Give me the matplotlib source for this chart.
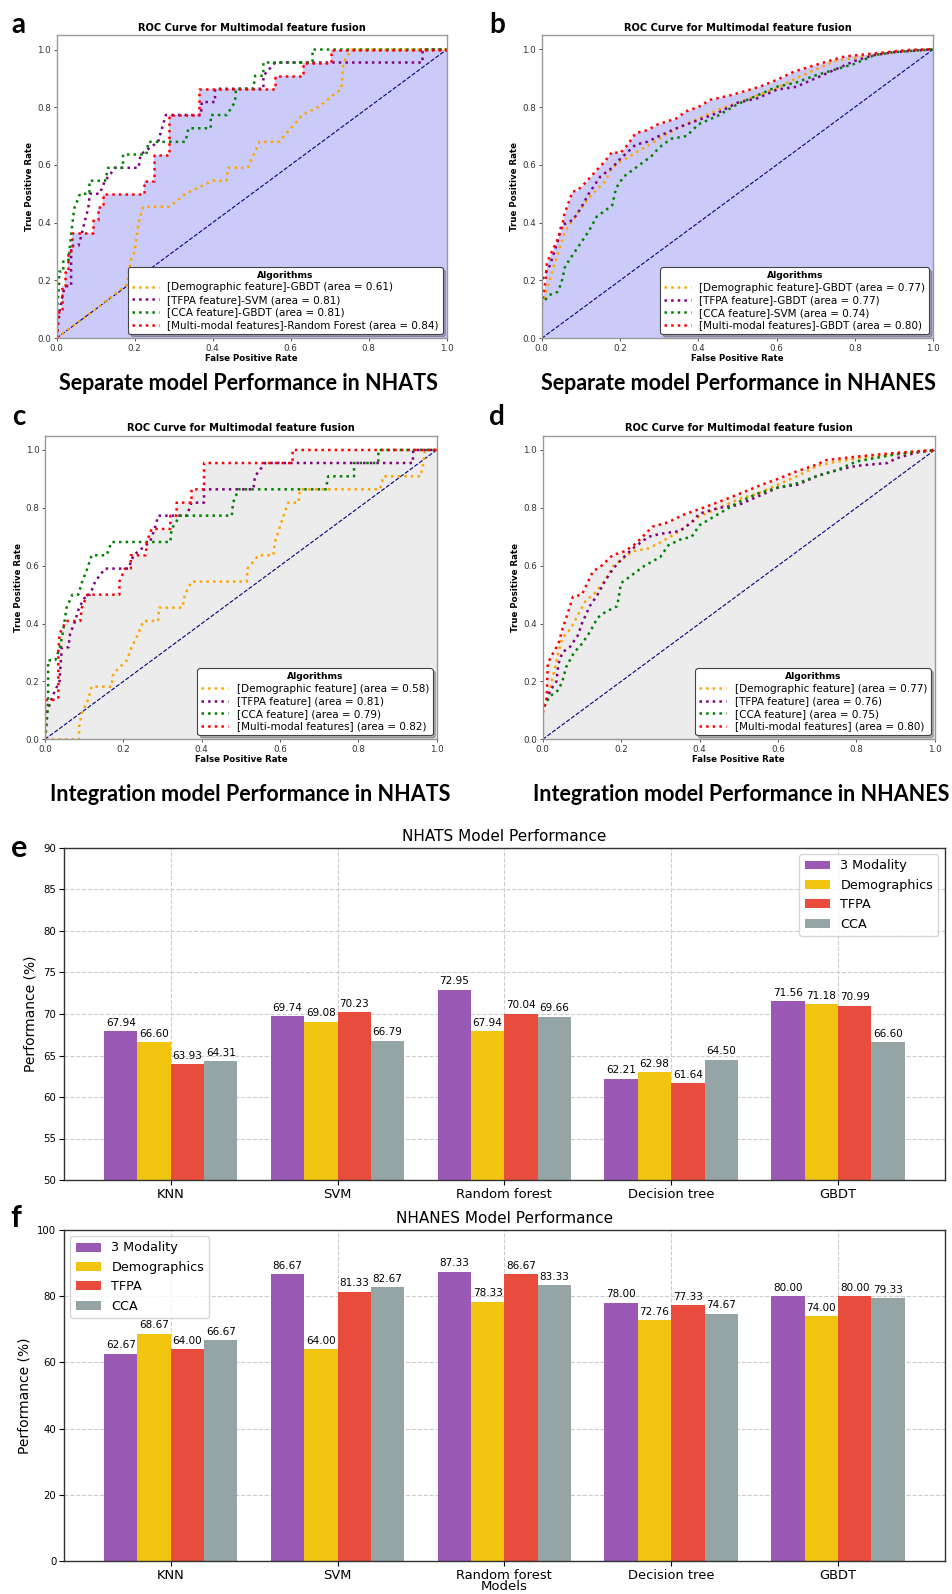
import numpy as np
import matplotlib
matplotlib.use("Agg")
import matplotlib.pyplot as plt

# ---------------- data ----------------
# panel a: separate models, NHATS
a_demo_fpr = [0, 0.1, 0.18, 0.19, 0.2, 0.21, 0.222, 0.29, 0.33, 0.4, 0.435, 0.44, 0.49, 0.52, 0.57, 0.63, 0.67, 0.73, 0.735, 0.756, 1.0]
a_demo_tpr = [0, 0.1, 0.185, 0.27, 0.3, 0.4, 0.455, 0.455, 0.5, 0.545, 0.545, 0.59, 0.59, 0.68, 0.68, 0.773, 0.8, 0.864, 0.955, 1.0, 1.0]
a_tfpa_fpr = [0, 0.008, 0.017, 0.023, 0.037, 0.037, 0.056, 0.064, 0.073, 0.081, 0.085, 0.11, 0.124, 0.15, 0.21, 0.215, 0.26, 0.27, 0.28, 0.37, 0.372, 0.406, 0.406, 0.53, 0.53, 0.56, 0.938, 0.938, 1.0]
a_tfpa_tpr = [0, 0.1, 0.16, 0.18, 0.18, 0.32, 0.32, 0.36, 0.41, 0.45, 0.5, 0.5, 0.545, 0.59, 0.59, 0.636, 0.68, 0.727, 0.773, 0.773, 0.818, 0.818, 0.864, 0.864, 0.909, 0.955, 0.955, 1.0, 1.0]
a_cca_fpr = [0, 0, 0.006, 0.006, 0.017, 0.017, 0.03, 0.038, 0.045, 0.06, 0.084, 0.084, 0.124, 0.132, 0.17, 0.17, 0.23, 0.235, 0.33, 0.338, 0.395, 0.395, 0.436, 0.457, 0.46, 0.504, 0.509, 0.53, 0.53, 0.656, 0.656, 1.0]
a_cca_tpr = [0, 0.09, 0.18, 0.23, 0.23, 0.27, 0.27, 0.37, 0.45, 0.5, 0.5, 0.545, 0.545, 0.59, 0.59, 0.636, 0.636, 0.68, 0.68, 0.727, 0.727, 0.773, 0.773, 0.818, 0.864, 0.864, 0.909, 0.909, 0.955, 0.955, 1.0, 1.0]
a_multi_fpr = [0, 0, 0.013, 0.013, 0.021, 0.021, 0.03, 0.03, 0.038, 0.038, 0.094, 0.094, 0.107, 0.107, 0.118, 0.118, 0.224, 0.224, 0.25, 0.25, 0.289, 0.289, 0.366, 0.366, 0.561, 0.561, 0.632, 0.632, 0.703, 0.703, 1.0]
a_multi_tpr = [0, 0.09, 0.09, 0.18, 0.18, 0.23, 0.23, 0.3, 0.3, 0.364, 0.364, 0.41, 0.41, 0.455, 0.455, 0.5, 0.5, 0.545, 0.545, 0.636, 0.636, 0.773, 0.773, 0.864, 0.864, 0.909, 0.909, 0.955, 0.955, 1.0, 1.0]
a_labels = ["[Demographic feature]-GBDT (area = 0.61)", "[TFPA feature]-SVM (area = 0.81)",
            "[CCA feature]-GBDT (area = 0.81)", "[Multi-modal features]-Random Forest (area = 0.84)"]

# panel b: separate models, NHANES
b_demo_fpr = [0, 0, 0.02, 0.04, 0.06, 0.08, 0.1, 0.13, 0.16, 0.18, 0.2, 0.25, 0.3, 0.35, 0.4, 0.45, 0.5, 0.55, 0.6, 0.65, 0.7, 0.75, 0.8, 0.9, 1.0]
b_demo_tpr = [0, 0.11, 0.2, 0.29, 0.37, 0.41, 0.45, 0.5, 0.54, 0.59, 0.61, 0.65, 0.69, 0.73, 0.76, 0.79, 0.815, 0.84, 0.865, 0.9, 0.93, 0.96, 0.97, 0.99, 1.0]
b_tfpa_fpr = [0, 0, 0.02, 0.04, 0.05, 0.08, 0.1, 0.12, 0.15, 0.18, 0.2, 0.24, 0.27, 0.3, 0.35, 0.4, 0.45, 0.5, 0.55, 0.6, 0.65, 0.7, 0.75, 0.8, 0.85, 0.9, 1.0]
b_tfpa_tpr = [0, 0.2, 0.25, 0.33, 0.39, 0.41, 0.45, 0.5, 0.56, 0.59, 0.62, 0.67, 0.68, 0.7, 0.73, 0.755, 0.78, 0.815, 0.83, 0.86, 0.87, 0.9, 0.93, 0.96, 0.98, 0.99, 1.0]
b_cca_fpr = [0, 0, 0.02, 0.04, 0.05, 0.06, 0.08, 0.1, 0.12, 0.14, 0.16, 0.18, 0.19, 0.21, 0.25, 0.28, 0.3, 0.33, 0.37, 0.4, 0.45, 0.5, 0.55, 0.6, 0.65, 0.7, 0.75, 0.8, 0.85, 0.9, 1.0]
b_cca_tpr = [0, 0.12, 0.15, 0.16, 0.19, 0.25, 0.29, 0.33, 0.37, 0.42, 0.44, 0.46, 0.52, 0.56, 0.6, 0.63, 0.66, 0.69, 0.7, 0.74, 0.77, 0.81, 0.84, 0.87, 0.885, 0.91, 0.93, 0.95, 0.98, 0.99, 1.0]
b_multi_fpr = [0, 0, 0.01, 0.013, 0.026, 0.04, 0.051, 0.058, 0.079, 0.09, 0.113, 0.139, 0.16, 0.18, 0.2, 0.22, 0.24, 0.27, 0.296, 0.343, 0.368, 0.4, 0.43, 0.48, 0.556, 0.6, 0.645, 0.7, 0.773, 0.853, 0.94, 1.0]
b_multi_tpr = [0, 0.12, 0.2, 0.26, 0.3, 0.34, 0.38, 0.43, 0.508, 0.51, 0.54, 0.58, 0.61, 0.645, 0.64, 0.67, 0.71, 0.72, 0.74, 0.76, 0.785, 0.8, 0.825, 0.84, 0.87, 0.894, 0.923, 0.946, 0.975, 0.986, 0.998, 1.0]
b_labels = ["[Demographic feature]-GBDT (area = 0.77)", "[TFPA feature]-GBDT (area = 0.77)",
            "[CCA feature]-SVM (area = 0.74)", "[Multi-modal features]-GBDT (area = 0.80)"]

# panel c: integration models, NHATS
c_demo_fpr = [0, 0.087, 0.087, 0.094, 0.11, 0.119, 0.17, 0.174, 0.209, 0.221, 0.238, 0.251, 0.289, 0.291, 0.351, 0.357, 0.374, 0.515, 0.517, 0.545, 0.583, 0.587, 0.598, 0.609, 0.621, 0.647, 0.651, 0.855, 0.864, 0.959, 0.966, 0.97, 1.0]
c_demo_tpr = [0, 0, 0.045, 0.09, 0.136, 0.182, 0.182, 0.227, 0.273, 0.318, 0.364, 0.409, 0.409, 0.455, 0.455, 0.5, 0.545, 0.545, 0.59, 0.636, 0.636, 0.682, 0.727, 0.773, 0.818, 0.818, 0.864, 0.864, 0.909, 0.909, 0.955, 1.0, 1.0]
c_tfpa_fpr = [0, 0.004, 0.017, 0.026, 0.037, 0.043, 0.06, 0.064, 0.077, 0.087, 0.106, 0.115, 0.128, 0.153, 0.213, 0.226, 0.268, 0.28, 0.289, 0.362, 0.374, 0.406, 0.406, 0.532, 0.536, 0.562, 0.939, 0.94, 1.0]
c_tfpa_tpr = [0, 0.09, 0.14, 0.17, 0.2, 0.318, 0.318, 0.364, 0.409, 0.455, 0.5, 0.5, 0.545, 0.59, 0.59, 0.636, 0.682, 0.727, 0.773, 0.773, 0.818, 0.818, 0.864, 0.864, 0.909, 0.955, 0.955, 1.0, 1.0]
c_cca_fpr = [0, 0.004, 0.008, 0.008, 0.026, 0.038, 0.045, 0.055, 0.07, 0.085, 0.095, 0.108, 0.119, 0.157, 0.17, 0.32, 0.323, 0.345, 0.477, 0.48, 0.494, 0.717, 0.723, 0.789, 0.789, 0.851, 0.851, 1.0]
c_cca_tpr = [0, 0.05, 0.13, 0.273, 0.273, 0.318, 0.364, 0.455, 0.5, 0.5, 0.545, 0.59, 0.636, 0.636, 0.682, 0.682, 0.727, 0.773, 0.773, 0.818, 0.864, 0.864, 0.909, 0.909, 0.955, 0.955, 1.0, 1.0]
c_multi_fpr = [0, 0, 0.013, 0.02, 0.034, 0.034, 0.037, 0.054, 0.09, 0.094, 0.108, 0.19, 0.19, 0.204, 0.219, 0.219, 0.257, 0.26, 0.272, 0.32, 0.32, 0.336, 0.336, 0.374, 0.374, 0.406, 0.406, 0.632, 0.632, 1.0]
c_multi_tpr = [0, 0.136, 0.136, 0.136, 0.14, 0.3, 0.364, 0.409, 0.409, 0.455, 0.5, 0.5, 0.545, 0.59, 0.59, 0.636, 0.636, 0.682, 0.727, 0.727, 0.773, 0.773, 0.818, 0.818, 0.864, 0.864, 0.955, 0.955, 1.0, 1.0]
c_labels = ["[Demographic feature] (area = 0.58)", "[TFPA feature] (area = 0.81)",
            "[CCA feature] (area = 0.79)", "[Multi-modal features] (area = 0.82)"]

# panel d: integration models, NHANES
d_demo_fpr = [0, 0, 0.02, 0.03, 0.04, 0.05, 0.07, 0.09, 0.11, 0.13, 0.16, 0.18, 0.2, 0.23, 0.27, 0.3, 0.35, 0.4, 0.45, 0.5, 0.55, 0.6, 0.65, 0.7, 0.75, 0.8, 0.9, 1.0]
d_demo_tpr = [0, 0.1, 0.18, 0.24, 0.3, 0.35, 0.38, 0.43, 0.48, 0.5, 0.55, 0.6, 0.62, 0.65, 0.66, 0.68, 0.72, 0.77, 0.8, 0.83, 0.85, 0.88, 0.91, 0.945, 0.96, 0.97, 0.985, 1.0]
d_tfpa_fpr = [0, 0, 0.02, 0.035, 0.04, 0.05, 0.07, 0.09, 0.1, 0.12, 0.14, 0.16, 0.18, 0.2, 0.23, 0.27, 0.3, 0.35, 0.38, 0.4, 0.45, 0.5, 0.55, 0.6, 0.65, 0.7, 0.75, 0.8, 0.88, 0.9, 0.95, 1.0]
d_tfpa_tpr = [0, 0.1, 0.17, 0.2, 0.26, 0.3, 0.32, 0.36, 0.4, 0.46, 0.5, 0.55, 0.59, 0.62, 0.66, 0.7, 0.71, 0.72, 0.75, 0.78, 0.8, 0.81, 0.84, 0.87, 0.88, 0.91, 0.93, 0.945, 0.955, 0.97, 0.99, 1.0]
d_cca_fpr = [0, 0, 0.02, 0.04, 0.05, 0.06, 0.08, 0.1, 0.12, 0.14, 0.16, 0.19, 0.2, 0.23, 0.26, 0.3, 0.32, 0.35, 0.38, 0.4, 0.45, 0.5, 0.55, 0.6, 0.65, 0.7, 0.75, 0.8, 0.9, 1.0]
d_cca_tpr = [0, 0.11, 0.15, 0.17, 0.2, 0.25, 0.3, 0.33, 0.37, 0.42, 0.44, 0.46, 0.54, 0.57, 0.6, 0.63, 0.67, 0.69, 0.7, 0.74, 0.78, 0.82, 0.85, 0.87, 0.885, 0.91, 0.93, 0.96, 0.985, 1.0]
d_multi_fpr = [0, 0, 0.01, 0.013, 0.026, 0.04, 0.051, 0.06, 0.068, 0.077, 0.1, 0.128, 0.15, 0.179, 0.21, 0.238, 0.28, 0.32, 0.357, 0.417, 0.485, 0.561, 0.6, 0.646, 0.7, 0.723, 0.8, 0.9, 1.0]
d_multi_tpr = [0, 0.09, 0.14, 0.263, 0.297, 0.33, 0.384, 0.42, 0.453, 0.493, 0.5, 0.58, 0.6, 0.637, 0.65, 0.677, 0.735, 0.75, 0.775, 0.804, 0.839, 0.881, 0.9, 0.925, 0.95, 0.965, 0.977, 0.99, 1.0]
d_labels = ["[Demographic feature] (area = 0.77)", "[TFPA feature] (area = 0.76)",
            "[CCA feature] (area = 0.75)", "[Multi-modal features] (area = 0.80)"]

# panels e/f: accuracy bars
models = ["KNN", "SVM", "Random forest", "Decision tree", "GBDT"]
groups = ["3 Modality", "Demographics", "TFPA", "CCA"]
nhats_3mod = [67.94, 69.74, 72.95, 62.21, 71.56]
nhats_demo = [66.60, 69.08, 67.94, 62.98, 71.18]
nhats_tfpa = [63.93, 70.23, 70.04, 61.64, 70.99]
nhats_cca = [64.31, 66.79, 69.66, 64.50, 66.60]
nhanes_3mod = [62.67, 86.67, 87.33, 78.00, 80.00]
nhanes_demo = [68.67, 64.00, 78.33, 72.76, 74.00]
nhanes_tfpa = [64.00, 81.33, 86.67, 77.33, 80.00]
nhanes_cca = [66.67, 82.67, 83.33, 74.67, 79.33]

roc_colors = ["orange", "purple", "green", "red"]
bar_colors = ["#9b59b6", "#f1c40f", "#e74c3c", "#95a5a6"]

W, H = 952, 1594
fig = plt.figure(figsize=(W / 100, H / 100), dpi=100)


def axes_px(l, t, r, b):
    return fig.add_axes([l / W, 1 - b / H, (r - l) / W, (b - t) / H])


def roc_panel(ax, curves, labels, fill):
    fpr_m, tpr_m = curves[-1]
    ax.fill_between(fpr_m, tpr_m, color=fill, lw=0, zorder=0)
    ax.plot([0, 1], [0, 1], color="navy", lw=0.8, ls="--", zorder=1)
    for (f, t), lab, col in zip(curves, labels, roc_colors):
        ax.plot(f, t, color=col, lw=1.8, ls=":", label=lab, zorder=2)
    ax.set_xlim(0.0, 1.0)
    ax.set_ylim(0.0, 1.05)
    ax.set_xticks(np.arange(0, 1.01, 0.2))
    ax.set_yticks(np.arange(0, 1.01, 0.2))
    ax.tick_params(labelsize=6.3, length=2.5, width=0.6, pad=1.5, colors="#333333")
    ax.set_xlabel("False Positive Rate", fontsize=6.2, fontweight="bold", labelpad=1)
    ax.set_ylabel("True Positive Rate", fontsize=6.2, fontweight="bold", labelpad=2)
    ax.set_title("ROC Curve for Multimodal feature fusion", fontsize=7.1, fontweight="bold", pad=3)
    for s in ax.spines.values():
        s.set_color("#999999")
        s.set_linewidth(1.0)
    leg = ax.legend(loc="lower right", title="Algorithms", fontsize=7.5, handlelength=2.6,
                    title_fontproperties={"weight": "bold", "size": 6.6},
                    framealpha=1, edgecolor="#444444", shadow={"alpha": 0.4},
                    borderpad=0.35, labelspacing=0.25, borderaxespad=0.4)
    leg.get_frame().set_linewidth(0.8)


ax_a = axes_px(56.7, 35.1, 446.7, 338)
roc_panel(ax_a, [(a_demo_fpr, a_demo_tpr), (a_tfpa_fpr, a_tfpa_tpr), (a_cca_fpr, a_cca_tpr),
                 (a_multi_fpr, a_multi_tpr)], a_labels, "#cbcbfa")
ax_b = axes_px(541.7, 34.8, 933.3, 338.3)
roc_panel(ax_b, [(b_demo_fpr, b_demo_tpr), (b_tfpa_fpr, b_tfpa_tpr), (b_cca_fpr, b_cca_tpr),
                 (b_multi_fpr, b_multi_tpr)], b_labels, "#cbcbfa")
ax_c = axes_px(45, 435.5, 436.7, 739.3)
roc_panel(ax_c, [(c_demo_fpr, c_demo_tpr), (c_tfpa_fpr, c_tfpa_tpr), (c_cca_fpr, c_cca_tpr),
                 (c_multi_fpr, c_multi_tpr)], c_labels, "#ececec")
ax_d = axes_px(542.7, 435.5, 934.7, 739.3)
roc_panel(ax_d, [(d_demo_fpr, d_demo_tpr), (d_tfpa_fpr, d_tfpa_tpr), (d_cca_fpr, d_cca_tpr),
                 (d_multi_fpr, d_multi_tpr)], d_labels, "#ececec")


def bar_panel(ax, series, title, ymax, ystep, legend_loc, ymin=0):
    x = np.arange(len(models))
    width = 0.2
    for i, (vals, name, col) in enumerate(zip(series, groups, bar_colors)):
        pos = x + (i - 1.5) * width
        bars = ax.bar(pos, vals, width, color=col, label=name, zorder=2)
        for b, v in zip(bars, vals):
            ax.annotate(f"{v:.2f}", (b.get_x() + b.get_width() / 2, v), xytext=(0, 2.5),
                        textcoords="offset points", ha="center", va="bottom", fontsize=7.5)
    ax.set_ylim(ymin, ymax)
    ax.set_yticks(np.arange(ymin, ymax + 0.1, ystep))
    ax.set_xticks(x)
    ax.set_xticklabels(models)
    ax.tick_params(axis="x", labelsize=9.4, length=3.5, pad=2)
    ax.tick_params(axis="y", labelsize=7.3, length=3.5, pad=2)
    ax.set_ylabel("Performance (%)", fontsize=10, labelpad=4)
    ax.set_title(title, fontsize=11, pad=5)
    ax.grid(True, ls="--", color="#cccccc", lw=0.8)
    ax.set_axisbelow(True)
    for s in ax.spines.values():
        s.set_color("#333333")
        s.set_linewidth(1.0)
    ax.legend(loc=legend_loc, fontsize=9.2)


ax_e = axes_px(64, 848, 944.7, 1180)
bar_panel(ax_e, [nhats_3mod, nhats_demo, nhats_tfpa, nhats_cca], "NHATS Model Performance",
          90, 5, "upper right", ymin=50)
ax_f = axes_px(64, 1230, 944.7, 1561)
bar_panel(ax_f, [nhanes_3mod, nhanes_demo, nhanes_tfpa, nhanes_cca], "NHANES Model Performance",
          100, 20, "upper left")
# x label sits right at the bottom edge, as in the source figure
fig.text((64 + 944.7) / 2 / W, 1 - 1593 / H, "Models", fontsize=9.5, ha="center", va="bottom")

# captions and panel letters
cap = dict(family="Lato", fontweight="bold", fontsize=15.5, ha="center", va="baseline")
fig.text(248 / W, 1 - 390.5 / H, "Separate model Performance in NHATS", **cap)
fig.text(738.5 / W, 1 - 390.5 / H, "Separate model Performance in NHANES", **cap)
fig.text(250 / W, 1 - 801 / H, "Integration model Performance in NHATS", **cap)
fig.text(741 / W, 1 - 801 / H, "Integration model Performance in NHANES", **cap)

let = dict(family="Lato", fontweight="bold", ha="center", va="baseline")
fig.text(18.5 / W, 1 - 33 / H, "a", fontsize=20, **let)
fig.text(497 / W, 1 - 33 / H, "b", fontsize=20, **let)
fig.text(18.5 / W, 1 - 424.5 / H, "c", fontsize=20, **let)
fig.text(496.5 / W, 1 - 424.5 / H, "d", fontsize=20, **let)
fig.text(19 / W, 1 - 857 / H, "e", fontsize=22, **let)
fig.text(16 / W, 1 - 1227 / H, "f", fontsize=22, **let)

fig.savefig("out.png", dpi=100)
